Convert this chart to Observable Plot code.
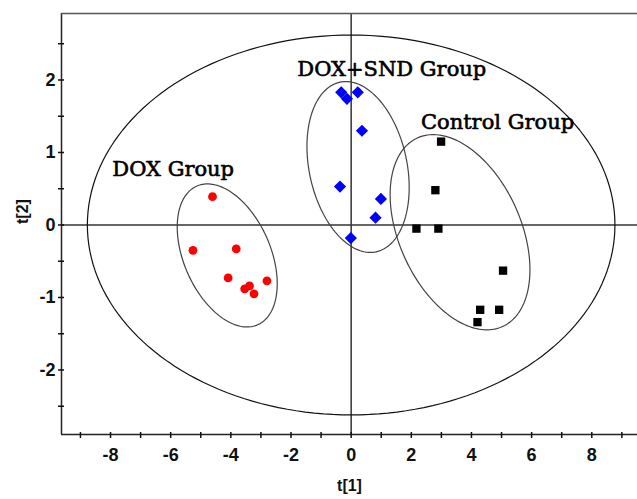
<!DOCTYPE html>
<html>
<head>
<meta charset="utf-8">
<script src="https://cdn.jsdelivr.net/npm/d3@7"></script>
<script src="https://cdn.jsdelivr.net/npm/@observablehq/plot@0.6"></script>
<style>
  html, body { margin: 0; padding: 0; background: #fff; }
  #chart svg { display: block; }
</style>
</head>
<body>
<div id="chart"></div>
<script>
// Score values
const doxX  = [-4.61, -5.26, -3.82, -4.09, -2.80, -3.54, -3.38, -3.23];
const doxY  = [ 0.39, -0.35, -0.33, -0.73, -0.77, -0.88, -0.84, -0.95];
const sndX  = [-0.33, -0.14,  0.22,  0.36, -0.37,  0.99,  0.81, -0.01];
const sndY  = [ 1.83,  1.74,  1.83,  1.30,  0.53,  0.36,  0.10, -0.18];
const ctrlX = [ 2.99,  2.80,  2.17,  2.90,  5.05,  4.29,  4.92,  4.20];
const ctrlY = [ 1.15,  0.48, -0.05, -0.05, -0.63, -1.17, -1.17, -1.34];

// Group labels
const groupNames = ["DOX Group", "DOX+SND Group", "Control Group"];
const labelX = [-7.94, -1.79, 2.32];
const labelY = [0.77, 2.15, 1.41];

// Ellipses: centre and two conjugate semi-axis vectors (data units)
const ellCx = [0, -4.12, 0.23, 3.62];
const ellCy = [0, -0.42, 0.80, -0.10];
const ellAx = [8.77, 1.01, 0.60, 1.42];
const ellAy = [0, -0.957, -1.17, -1.30];
const ellBx = [0, 1.32, 1.59, 1.84];
const ellBy = [2.62, 0.24, 0.14, 0.35];

const xTicks = d3.range(-9, 10, 1);
const yTicks = d3.range(-2.5, 2.51, 0.5);
const xDomain = [-9.63, 9.52];
const yDomain = [-2.89, 2.917];

const pts = (xs, ys) => xs.map((x, i) => ({x, y: ys[i]}));
const dox = pts(doxX, doxY), snd = pts(sndX, sndY), ctrl = pts(ctrlX, ctrlY);
const labels = groupNames.map((t, i) => ({t, x: labelX[i], y: labelY[i]}));
const ellipses = ellCx.flatMap((cx, k) =>
  d3.range(0, 361, 2).map(deg => {
    const a = deg * Math.PI / 180;
    return {k, x: cx + Math.cos(a) * ellAx[k] + Math.sin(a) * ellBx[k],
               y: ellCy[k] + Math.cos(a) * ellAy[k] + Math.sin(a) * ellBy[k]};
  }));

const chart = Plot.plot({
  width: 637, height: 499,
  marginLeft: 61, marginRight: 0, marginTop: 13, marginBottom: 65,
  x: {domain: xDomain},
  y: {domain: yDomain},
  style: {background: "#fff", color: "#111"},
  marks: [
    Plot.ruleX([0], {stroke: "#333", strokeWidth: 1.5}),
    Plot.ruleY([0], {stroke: "#333", strokeWidth: 1.5}),
    Plot.line(ellipses.filter(d => d.k === 0), {x: "x", y: "y", stroke: "#111", strokeWidth: 1.2}),
    Plot.line(ellipses.filter(d => d.k > 0), {x: "x", y: "y", z: "k", stroke: "#444", strokeWidth: 1.2}),
    Plot.dot(dox, {x: "x", y: "y", symbol: "circle", r: 4.4, fill: "#ff0000", stroke: "none"}),
    Plot.dot(snd, {x: "x", y: "y", symbol: "diamond2", r: 5.5, fill: "#0000ff", stroke: "none"}),
    Plot.dot(ctrl, {x: "x", y: "y", symbol: "square", r: 4.7, fill: "#000", stroke: "none"}),
    Plot.text(labels, {x: "x", y: "y", text: "t", textAnchor: "start", lineAnchor: "middle",
      fontFamily: "DejaVu Serif", fontSize: 21, fill: "#000", stroke: "#000", strokeWidth: 0.6}),
    Plot.ruleX([xDomain[0]], {stroke: "#222", strokeWidth: 1.5}),
    Plot.ruleY([yDomain[0]], {stroke: "#222", strokeWidth: 1.5}),
    Plot.ruleY([yDomain[1]], {stroke: "#555", strokeWidth: 1.5}),
    Plot.axisX(xTicks, {tickSize: 6, dy: -2, tickPadding: 10, strokeWidth: 1.5, label: null,
      tickFormat: d => d % 2 === 0 ? String(d) : "",
      fontFamily: "Liberation Sans", fontWeight: "bold", fontSize: 18}),
    Plot.axisY(yTicks, {tickSize: 6, dx: 3, tickPadding: 3, strokeWidth: 1.5, label: null,
      tickFormat: d => Number.isInteger(d) ? String(d) : "",
      fontFamily: "Liberation Sans", fontWeight: "bold", fontSize: 18}),
    Plot.text(["t[1]"], {frameAnchor: "bottom", dy: 56, text: d => d,
      fontFamily: "Liberation Sans", fontWeight: "bold", fontSize: 16, fill: "#111"}),
    Plot.text(["t[2]"], {frameAnchor: "left", dx: -39, rotate: -90, text: d => d,
      fontFamily: "Liberation Sans", fontWeight: "bold", fontSize: 16, fill: "#111"})
  ]
});
document.getElementById("chart").append(chart);
</script>
</body>
</html>
